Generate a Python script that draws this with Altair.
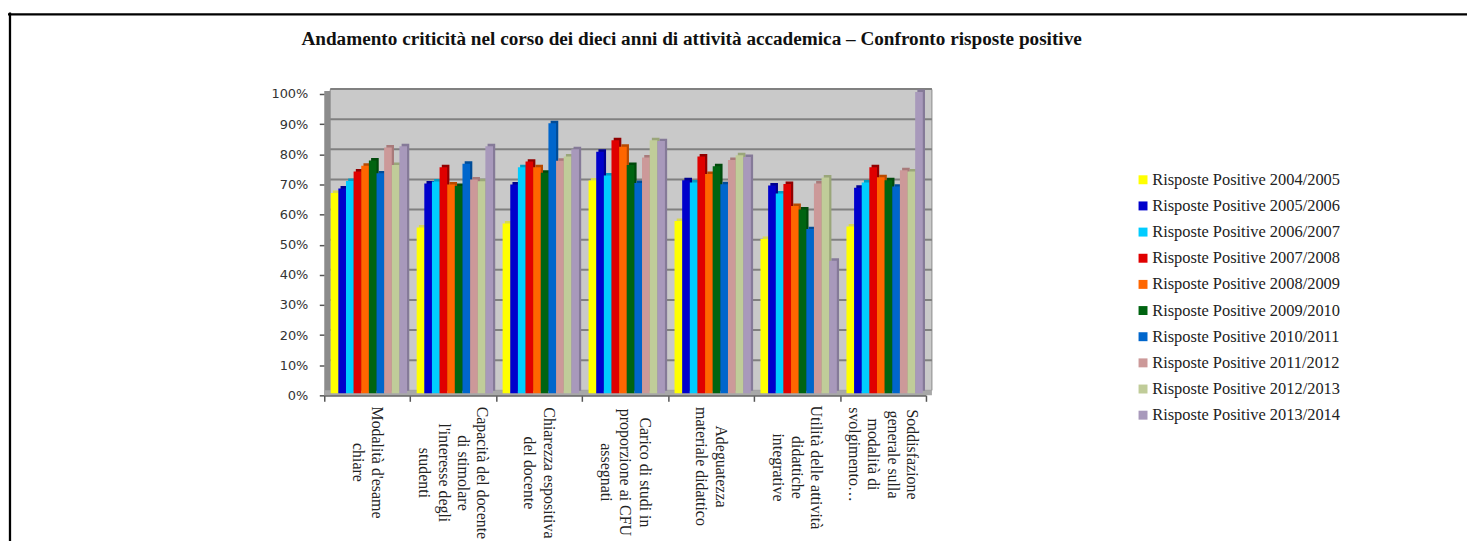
import altair as alt
import pandas as pd

title_text = "Andamento criticità nel corso dei dieci anni di attività accademica – Confronto risposte positive"
categories = ["Modalità d'esame chiare",
              "Capacità del docente di stimolare l'interesse degli studenti",
              "Chiarezza espositiva del docente",
              "Carico di studi in proporzione ai CFU assegnati",
              "Adeguatezza materiale didattico",
              "Utilità delle attività didattiche integrative",
              "Soddisfazione generale sulla modalità di svolgimento…"]
label_lines = ["Modalità d'esame|chiare",
               "Capacità del docente|di stimolare|l'interesse degli|studenti",
               "Chiarezza espositiva|del docente",
               "Carico di studi in|proporzione ai CFU|assegnati",
               "Adeguatezza|materiale didattico",
               "Utilità delle attività|didattiche|integrative",
               "Soddisfazione|generale sulla|modalità di|svolgimento…"]
years = ["2004/2005", "2005/2006", "2006/2007", "2007/2008", "2008/2009",
         "2009/2010", "2010/2011", "2011/2012", "2012/2013", "2013/2014"]
v_2004 = [66.5, 55.0, 56.4, 70.6, 57.2, 51.2, 55.4]
v_2005 = [68.0, 69.6, 69.3, 80.2, 70.7, 69.0, 68.2]
v_2006 = [70.5, 70.3, 75.0, 72.3, 70.0, 66.3, 70.0]
v_2007 = [73.6, 75.0, 76.9, 84.0, 78.6, 69.5, 75.0]
v_2008 = [75.5, 69.3, 75.0, 81.8, 72.8, 62.2, 71.7]
v_2009 = [77.3, 68.8, 73.2, 75.8, 75.4, 61.0, 70.7]
v_2010 = [73.0, 76.2, 89.6, 69.8, 69.4, 54.5, 68.6]
v_2011 = [81.6, 71.0, 77.2, 78.3, 77.4, 69.6, 74.0]
v_2012 = [75.8, 70.4, 78.6, 84.0, 79.0, 71.6, 73.6]
v_2013 = [82.0, 82.0, 81.0, 83.7, 78.4, 44.0, 100.0]
all_values = [v_2004, v_2005, v_2006, v_2007, v_2008, v_2009, v_2010, v_2011, v_2012, v_2013]
grid_values = [10, 20, 30, 40, 50, 60, 70, 80, 90, 100]

colors = ["#ffff00", "#0000cc", "#00ccff", "#e00000", "#ff6600",
          "#006411", "#0066cc", "#cc9999", "#c0cc99", "#a899bb"]
dark_colors = ["#d8d850", "#000090", "#009cc4", "#900000", "#b84a00",
               "#004a0c", "#004c98", "#a87a7a", "#9aa67a", "#857a98"]

series = ["Risposte Positive " + y for y in years]
rows = [{"cat": c, "serie": s, "v": vals[i]}
        for s, vals in zip(series, all_values) for i, c in enumerate(categories)]
df = pd.DataFrame(rows)

W, H = 605, 303
serif = "Liberation Serif"
one = alt.Data(values=[{}])
x_scale = alt.Scale(domain=categories, paddingInner=0, paddingOuter=0, round=False)
x_enc = alt.X("cat:N", sort=categories, scale=x_scale,
              axis=alt.Axis(title=None, labels=False, tickBand="extent", tickSize=6, tickWidth=1.5,
                            tickColor="#555555", domainColor="#666666", domainWidth=2))
y_axis = alt.Axis(title=None, values=[0]+grid_values, labelExpr="datum.value + '%'",
                  labelFont="DejaVu Sans", labelFontSize=13, labelColor="#333333",
                  labelPadding=11.5, tickSize=5, tickColor="#555555", tickWidth=1.5,
                  domain=False, grid=False)
y_enc = alt.Y("v:Q", scale=alt.Scale(domain=[0, 100]), axis=y_axis)
off_front = alt.XOffset("serie:N", sort=series,
                        scale=alt.Scale(domain=series, paddingInner=0, paddingOuter=0.63, align=0.67))
off_back = alt.XOffset("serie:N", sort=series,
                       scale=alt.Scale(domain=series, paddingInner=0, paddingOuter=0.63, align=0.9))

top_line = alt.Chart(one).mark_rule(color="black", strokeWidth=2.3).encode(
    x=alt.value(-318), x2=alt.value(1150), y=alt.value(-80))
left_line = alt.Chart(one).mark_rule(color="black", strokeWidth=2.3).encode(
    x=alt.value(-316), y=alt.value(-82), y2=alt.value(450))
wall = alt.Chart(one).mark_rect(color="#c9c9c9", stroke="#8a8a8a", strokeWidth=1).encode(
    x=alt.value(6), x2=alt.value(611), y=alt.value(-4.5), y2=alt.value(H - 5))
side = alt.Chart(one).mark_rect(color="#8c8c8c").encode(
    x=alt.value(0), x2=alt.value(6), y=alt.value(-3), y2=alt.value(H))
floor = alt.Chart(one).mark_rect(color="#a8a8a8").encode(
    x=alt.value(0), x2=alt.value(611), y=alt.value(H - 5), y2=alt.value(H))
grid = alt.Chart(pd.DataFrame({"g": grid_values})).mark_rule(color="#808080", strokeWidth=2, yOffset=-5).encode(
    x=alt.value(6), x2=alt.value(611),
    y=alt.Y("g:Q", scale=alt.Scale(domain=[0, 100]), axis=y_axis))

bar_back = alt.Chart(df).mark_bar(yOffset=-4.5, y2Offset=-3).encode(
    x=x_enc, y=y_enc, xOffset=off_back,
    color=alt.Color("serie:N", sort=series, scale=alt.Scale(domain=series, range=dark_colors), legend=None))
bar_front = alt.Chart(df).mark_bar(yOffset=-2, y2Offset=-2).encode(
    x=x_enc, y=y_enc, xOffset=off_front,
    color=alt.Color("serie:N", sort=series, scale=alt.Scale(domain=series, range=colors),
                    legend=alt.Legend(title=None, orient="none", legendX=815, legendY=78,
                                      symbolType="square", symbolSize=81, symbolStrokeWidth=0,
                                      labelFont=serif, labelFontSize=16.5, labelColor="#222222",
                                      labelOffset=1, rowPadding=9.3, columns=1, labelLimit=300)))

y_centers = [463.5, 474, 474, 473.5, 467.5, 468.5, 455.5]
LINE_H = 19.5
texts = []
for cat, lab, yc in zip(categories, label_lines, y_centers):
    n = lab.count("|") + 1
    texts.append(
        alt.Chart(pd.DataFrame({"cat": [cat], "lab": [lab]})).mark_text(
            angle=90, align="center", baseline="middle", lineBreak="|", lineHeight=LINE_H,
            font=serif, fontSize=16, color="#222222", clip=False,
            xOffset=(n - 1) * LINE_H / 2
        ).encode(x=x_enc, y=alt.value(yc - 93), text="lab:N"))

bars = alt.layer(bar_back, bar_front).resolve_scale(color="independent", xOffset="independent")

chart = alt.layer(top_line, left_line, side, wall, floor, grid, bars, *texts).resolve_scale(
    color="independent", xOffset="independent"
).properties(
    width=W, height=H,
    autosize=alt.AutoSizeParams(type="none"),
    padding={"left": 318, "top": 85, "right": 544, "bottom": 145},
    title=alt.TitleParams(title_text, font=serif, fontSize=19.3, fontWeight="bold", color="#111111",
                          anchor="start", frame="group", dx=-23, offset=0, dy=38),
    background="white",
).configure_view(stroke=None)

chart.save("out.html", embed_options={"renderer": "svg", "actions": False})
